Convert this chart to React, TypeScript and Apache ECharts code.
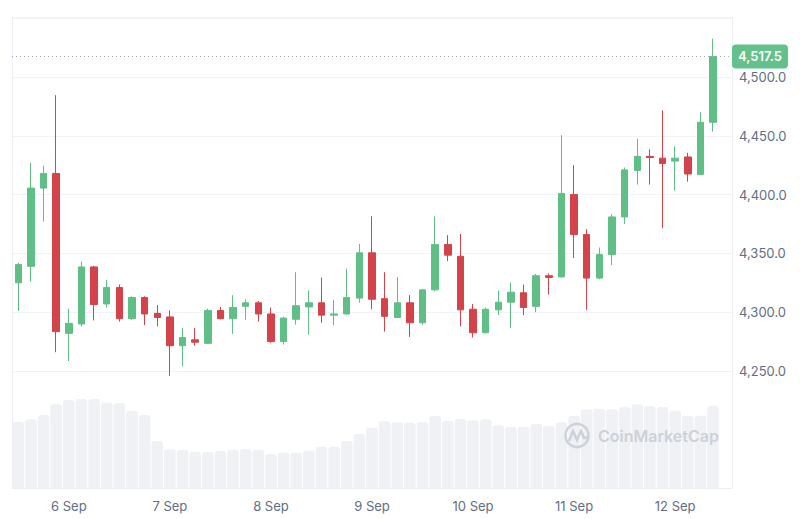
import React, { useEffect, useRef } from "react";
import * as echarts from "echarts";

// ---- Data (3-hour candles, 5 Sep 12:00 → 12 Sep 09:00) ----
const days = ["5 Sep", "6 Sep", "7 Sep", "8 Sep", "9 Sep", "10 Sep", "11 Sep", "12 Sep"];
const hours = ["00:00", "03:00", "06:00", "09:00", "12:00", "15:00", "18:00", "21:00"];

const opens = [
  4325, 4339, 4405.5, 4418, 4282, 4290, 4338.5, 4307, 4321, 4294.5,
  4312.5, 4299, 4296, 4271.5, 4276.5, 4273.5, 4301.5, 4294.5, 4305, 4308,
  4298.5, 4275, 4294, 4304.5, 4308, 4297.5, 4298.5, 4312, 4350.5, 4311.5,
  4295.5, 4308, 4291, 4319, 4357.5, 4347.5, 4302.5, 4282.5, 4302, 4308.5,
  4316.5, 4305, 4331, 4330, 4400, 4366, 4329, 4349, 4381, 4420.5,
  4432.5, 4431, 4428.5, 4432, 4417, 4461.5,
];
const closes = [
  4340.5, 4405.5, 4418, 4283.5, 4290.5, 4338.5, 4306.5, 4321, 4294.5, 4312.5,
  4298.5, 4295.5, 4271.5, 4278.5, 4274.5, 4301.5, 4294.5, 4304, 4308, 4298.5,
  4275, 4295, 4305.5, 4308, 4297.5, 4298.5, 4312.5, 4350.5, 4311, 4296.5,
  4308, 4291, 4319, 4357.5, 4348.5, 4302, 4282.5, 4302.5, 4308.5, 4317,
  4304, 4331, 4329.5, 4401, 4366, 4329, 4349, 4381, 4421, 4432.5,
  4431.5, 4426.5, 4431, 4417.5, 4461.5, 4517.5,
];
const lows = [
  4301, 4326, 4377, 4266, 4258.5, 4288, 4293, 4304, 4292, 4293.5,
  4289, 4288, 4246, 4254, 4271.5, 4273, 4294, 4281.5, 4293.5, 4292,
  4274, 4272.5, 4289.5, 4281, 4291, 4289, 4298, 4308, 4302.5, 4283.5,
  4295, 4279, 4289.5, 4318, 4343.5, 4288, 4278.5, 4282, 4297.5, 4286.5,
  4297.5, 4300, 4315, 4329.5, 4346, 4302, 4328, 4340, 4375, 4408.5,
  4408.5, 4371.5, 4403.5, 4411, 4417, 4453.5,
];
const highs = [
  4342, 4427, 4424.5, 4484.5, 4303, 4343, 4339.5, 4327.5, 4323.5, 4313.5,
  4313.5, 4306, 4301.5, 4286.5, 4286.5, 4303, 4304.5, 4314.5, 4311, 4309.5,
  4304, 4296, 4334, 4318.5, 4329.5, 4310.5, 4337, 4358, 4381.5, 4334,
  4330, 4314.5, 4319.5, 4381.5, 4365.5, 4366.5, 4307, 4304, 4318.5, 4325,
  4323.5, 4332.5, 4333, 4450.5, 4425, 4370.5, 4355, 4383.5, 4423, 4447.5,
  4438.5, 4471.5, 4441, 4435.5, 4470, 4532.5,
];
// relative volume (arbitrary units)
const volumes = [
  663, 687, 730, 837, 880, 890, 890, 853, 847, 773,
  730, 470, 387, 380, 363, 360, 370, 383, 390, 383,
  340, 353, 353, 373, 413, 413, 470, 540, 603, 667,
  657, 653, 657, 720, 670, 690, 677, 687, 627, 610,
  613, 640, 623, 657, 723, 787, 793, 787, 807, 837,
  820, 810, 773, 723, 723, 823,
];
const priceTicks = [4250, 4300, 4350, 4400, 4450, 4500];
const lastPrice = 4517.5;

const GREEN = "#5fbf87";
const RED = "#d4434a";
const MARK = "#cdd1d9";

// 57 time slots starting 5 Sep 12:00 (last one empty)
const categories: string[] = [];
for (let i = 0; i < 57; i++) {
  const t = i + 4; // 5 Sep 12:00 is slot 4 of day 0
  categories.push(days[Math.floor(t / 8)] + " " + hours[t % 8]);
}

export default function App() {
  const ref = useRef<HTMLDivElement>(null);
  useEffect(() => {
    document.body.style.margin = "0";
    if (!ref.current) return;
    const chart = echarts.init(ref.current, undefined, { renderer: "svg" });
    const candleData = opens.map((o, i) => [o, closes[i], lows[i], highs[i]]);
    const fmt = (v: number) =>
      v.toLocaleString("en-US", { minimumFractionDigits: 1, maximumFractionDigits: 1 });
    const font = "Inter, 'Noto Sans', sans-serif";
    chart.setOption({
      animation: false,
      backgroundColor: "#ffffff",
      grid: [
        { left: 12, right: 68, top: 17, height: 354 },
        { left: 12, right: 68, top: 388, height: 100 },
      ],
      xAxis: [
        {
          type: "category",
          gridIndex: 0,
          data: categories,
          boundaryGap: true,
          show: false,
        },
        {
          type: "category",
          gridIndex: 1,
          data: categories,
          boundaryGap: true,
          axisLine: { show: false },
          axisTick: { show: false },
          splitLine: { show: false },
          axisLabel: {
            interval: (_i: number, v: string) => v.endsWith("00:00"),
            formatter: (v: string) => v.split(" ").slice(0, 2).join(" "),
            color: "#616e85",
            fontSize: 13,
            fontFamily: font,
            margin: 11,
          },
        },
      ],
      yAxis: [
        {
          type: "value",
          gridIndex: 0,
          position: "right",
          min: priceTicks[0],
          max: 4551,
          interval: 50,
          axisLine: { show: false },
          axisTick: { show: false },
          splitLine: { show: true, lineStyle: { color: "#f1f3f6", width: 1 } },
          axisLabel: {
            formatter: (v: number) => (v > priceTicks[priceTicks.length - 1] + 0.1 ? "" : fmt(v)),
            color: "#616e85",
            fontSize: 13,
            fontFamily: font,
            margin: 7,
          },
        },
        {
          type: "value",
          gridIndex: 1,
          min: 0,
          max: 1000,
          show: false,
          splitLine: { show: false },
        },
      ],
      series: [
        {
          type: "bar",
          xAxisIndex: 1,
          yAxisIndex: 1,
          data: volumes,
          barCategoryGap: "8%",
          itemStyle: { color: "#eff1f5", borderRadius: [3, 3, 0, 0] },
          z: 1,
        },
        {
          type: "candlestick",
          xAxisIndex: 0,
          yAxisIndex: 0,
          data: candleData,
          barWidth: 7,
          clip: false,
          itemStyle: {
            color: GREEN,
            color0: RED,
            borderColor: GREEN,
            borderColor0: RED,
            borderWidth: 1,
          },
          z: 3,
          markLine: {
            silent: true,
            symbol: ["none", "none"],
            data: [{ yAxis: lastPrice }],
            lineStyle: { type: [1, 3], color: "#a3abb8", width: 1 },
            label: {
              show: true,
              position: "end",
              distance: 0,
              formatter: () => fmt(lastPrice),
              backgroundColor: "#63c18b",
              color: "#ffffff",
              fontSize: 13,
              fontWeight: 600,
              fontFamily: font,
              padding: [6, 6, 5, 6],
              borderRadius: 4,
            },
          },
        },
      ],
      graphic: [
        {
          type: "rect",
          shape: { x: 12.5, y: 17.5, width: 720, height: 471 },
          style: { fill: "none", stroke: "#eceff3", lineWidth: 1 },
          z: 0,
          silent: true,
        },
        {
          type: "circle",
          z: 100,
          silent: true,
          shape: { cx: 577, cy: 435.5, r: 11.5 },
          style: { fill: "none", stroke: MARK, lineWidth: 2.5 },
        },
        {
          type: "polyline",
          z: 100,
          silent: true,
          shape: {
            points: [
              [569, 441],
              [573, 431],
              [577, 440],
              [581, 431],
              [584, 438],
              [589, 437],
            ],
          },
          style: { fill: "none", stroke: MARK, lineWidth: 2.5 },
        },
        {
          type: "text",
          z: 100,
          silent: true,
          x: 598,
          y: 436,
          style: {
            text: "CoinMarketCap",
            fill: MARK,
            fontSize: 16,
            fontWeight: 600,
            fontFamily: font,
            verticalAlign: "middle",
            align: "left",
          },
        },
      ],
    });
    return () => chart.dispose();
  }, []);
  return <div ref={ref} style={{ width: 800, height: 519 }} />;
}
